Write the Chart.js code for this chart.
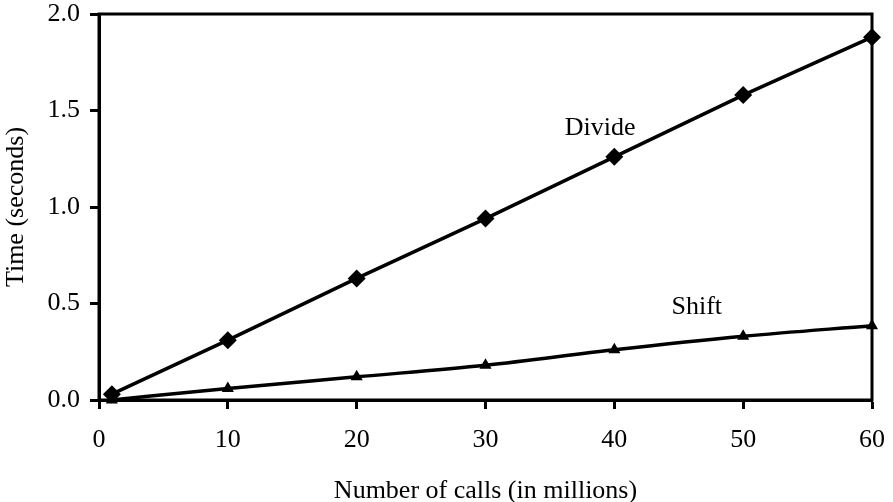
<!DOCTYPE html>
<html>
<head>
<meta charset="utf-8">
<script src="https://cdn.jsdelivr.net/npm/chart.js@4/dist/chart.umd.min.js"></script>
<style>
  html, body { margin: 0; padding: 0; background: #fff; }
  #wrap { width: 893px; height: 502px; }
</style>
</head>
<body>
<div id="wrap"><canvas id="chart" width="893" height="502"></canvas></div>
<script>
// calls (millions) vs. time in seconds
const calls = [1, 10, 20, 30, 40, 50, 60];
const divideTimes = [0.03, 0.31, 0.63, 0.94, 1.26, 1.58, 1.88];
const shiftTimes = [0.0, 0.06, 0.12, 0.18, 0.26, 0.33, 0.385];
const xTicks = [0, 10, 20, 30, 40, 50, 60];
const yTicks = [0.0, 0.5, 1.0, 1.5, 2.0];

// where the series names sit, in data units
const seriesLabels = [
    { text: 'Divide', x: 38.9, y: 1.41 },
    { text: 'Shift', x: 46.4, y: 0.48 }
];

const serif = '"Liberation Serif", "Times New Roman", serif';

const frame = {
    id: 'frame',
    afterDraw(chart) {
        const { ctx, chartArea: a, scales } = chart;
        ctx.save();
        ctx.strokeStyle = '#000';
        ctx.lineWidth = 3;
        ctx.strokeRect(a.left, a.top, a.right - a.left, a.bottom - a.top);
        ctx.fillStyle = '#000';
        ctx.font = '26px ' + serif;
        ctx.textAlign = 'center';
        ctx.textBaseline = 'middle';
        seriesLabels.forEach(l => {
            ctx.fillText(l.text, scales.x.getPixelForValue(l.x), scales.y.getPixelForValue(l.y));
        });
        ctx.restore();
    }
};

new Chart(document.getElementById('chart'), {
    type: 'line',
    data: {
        datasets: [
            {
                label: 'Divide',
                data: calls.map((c, i) => ({ x: c, y: divideTimes[i] })),
                borderColor: '#000',
                backgroundColor: '#000',
                borderWidth: 3.5,
                pointStyle: 'rectRot',
                pointRadius: 9,
                pointBorderWidth: 0,
                tension: 0
            },
            {
                label: 'Shift',
                data: calls.map((c, i) => ({ x: c, y: shiftTimes[i] })),
                borderColor: '#000',
                backgroundColor: '#000',
                borderWidth: 3.5,
                pointStyle: 'triangle',
                pointRadius: 7,
                pointBorderWidth: 0,
                cubicInterpolationMode: 'monotone'
            }
        ]
    },
    options: {
        responsive: false,
        animation: false,
        clip: false,
        layout: { padding: { top: 14, right: 21, left: 0, bottom: 0 } },
        plugins: { legend: { display: false }, tooltip: { enabled: false } },
        scales: {
            x: {
                type: 'linear',
                min: 0,
                max: 60,
                afterFit(s) { s.height = 102; s.paddingLeft = 0; s.paddingRight = 0; },
                afterBuildTicks(s) { s.ticks = xTicks.map(v => ({ value: v })); },
                grid: { drawOnChartArea: false, drawTicks: true, tickLength: 9, tickWidth: 3, color: '#000' },
                border: { display: true, color: '#000', width: 3 },
                ticks: { color: '#000', padding: 18, font: { family: serif, size: 26, lineHeight: 1 } },
                title: {
                    display: true,
                    text: 'Number of calls (in millions)',
                    color: '#000',
                    font: { family: serif, size: 26, lineHeight: 1 },
                    padding: { top: 10, bottom: -2 }
                }
            },
            y: {
                min: 0,
                max: 2,
                afterFit(s) { s.width = 99; s.paddingTop = 0; s.paddingBottom = 0; },
                afterBuildTicks(s) { s.ticks = yTicks.map(v => ({ value: v })); },
                grid: { drawOnChartArea: false, drawTicks: true, tickLength: 9, tickWidth: 3, color: '#000' },
                border: { display: true, color: '#000', width: 3 },
                ticks: {
                    color: '#000',
                    padding: 10,
                    font: { family: serif, size: 26, lineHeight: 1 },
                    callback: v => v.toFixed(1)
                },
                title: {
                    display: true,
                    text: 'Time (seconds)',
                    color: '#000',
                    font: { family: serif, size: 26, lineHeight: 1 },
                    padding: { top: 3, bottom: 0 }
                }
            }
        }
    },
    plugins: [frame]
});
</script>
</body>
</html>
